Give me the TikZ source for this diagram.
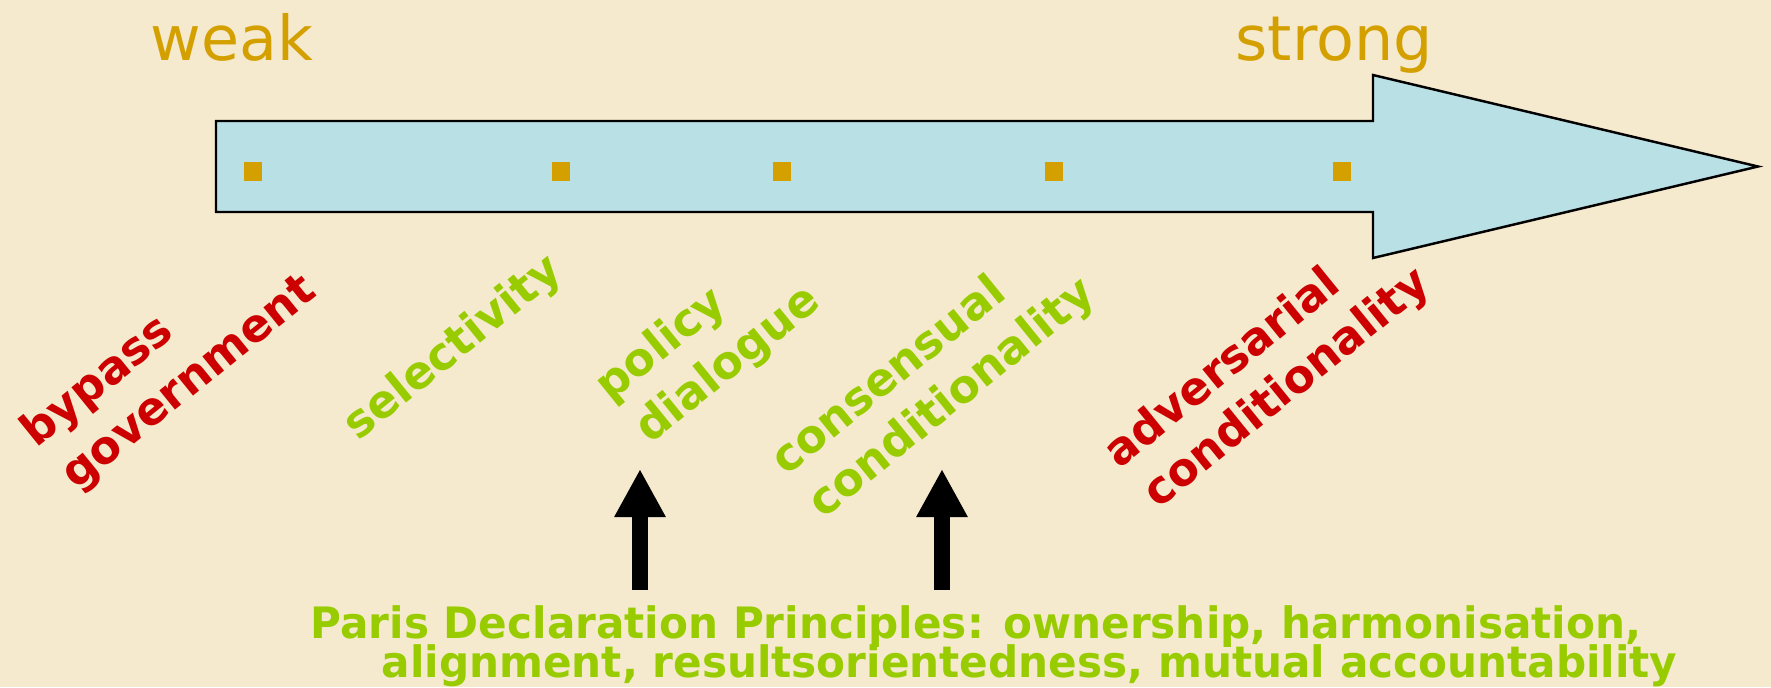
\documentclass[tikz,border=0pt]{standalone}
\usepackage{fontspec}
\setmainfont{DejaVu Sans}
\newfontfamily\parisfont{DejaVu Sans}[FakeStretch=0.975]
\usetikzlibrary{arrows.meta}
\definecolor{bgc}{HTML}{F5EACD}
\definecolor{arrowfill}{HTML}{B9E0E4}
\definecolor{goldc}{HTML}{D4A000}
\definecolor{greenc}{HTML}{99CC00}
\definecolor{redc}{HTML}{CC0000}
\tikzset{
  endlabel/.style={inner sep=0pt, anchor=base west, text=goldc, font=\fontsize{17.6pt}{21pt}\selectfont},
  tiltlabel/.style={inner sep=0pt, anchor=base west, rotate=39, font=\fontsize{12.9pt}{15pt}\selectfont\bfseries},
  goodlabel/.style={tiltlabel, text=greenc},
  badlabel/.style={tiltlabel, text=redc},
  paristext/.style={inner sep=0pt, anchor=base west, text=greenc, font=\parisfont\fontsize{12.3pt}{15pt}\selectfont\bfseries},
  marker/.style={fill=goldc, draw=none, minimum size=5.3pt, inner sep=0pt},
  uparrow/.style={line width=4.6pt, -{Triangle[width=0.48cm,length=0.48cm]}},
}
\begin{document}
\begin{tikzpicture}[x=0.01cm,y=-0.01cm]
\useasboundingbox (0,0) rectangle (1771,687);
\fill[bgc] (0,0) rectangle (1771,687);
% big arrow
\draw[fill=arrowfill, line width=0.7pt, line join=miter]
  (216,121) -- (1373,121) -- (1373,75) -- (1758,166.5) -- (1373,258) -- (1373,212) -- (216,212) -- cycle;
% markers
\node[marker] (m1) at (253,171.5) {};
\node[marker] (m2) at (561,171.5) {};
\node[marker] (m3) at (782,171.5) {};
\node[marker] (m4) at (1054,171.5) {};
\node[marker] (m5) at (1342,171.5) {};
% end labels
\node[endlabel] (weak) at (150,60) {weak};
\node[endlabel] (strong) at (1235,60) {strong};
% tilted labels
\node[badlabel] (bypass) at (36,449) {bypass};
\node[badlabel] (govt) at (76,491) {government};
\node[goodlabel] (select) at (358,442) {selectivity};
\node[goodlabel] (policy) at (610,403) {policy};
\node[goodlabel] (dialog) at (650,445) {dialogue};
\node[goodlabel] (consens) at (786,477) {consensual};
\node[goodlabel] (condA) at (823,520) {conditionality};
\node[badlabel] (advers) at (1119,470) {adversarial};
\node[badlabel] (condB) at (1158,510) {conditionality};
% Paris text
\node[paristext] (paris1) at (310,638) {Paris Declaration Principles: ownership, harmonisation,};
\node[paristext] (paris2) at (381,677) {alignment, resultsorientedness, mutual accountability};
% up arrows
\coordinate (a1s) at (640,590);
\coordinate (a1t) at (640,469);
\coordinate (a2s) at (942,590);
\coordinate (a2t) at (942,469);
\draw[uparrow] (a1s) -- (a1t);
\draw[uparrow] (a2s) -- (a2t);
\end{tikzpicture}
\end{document}
